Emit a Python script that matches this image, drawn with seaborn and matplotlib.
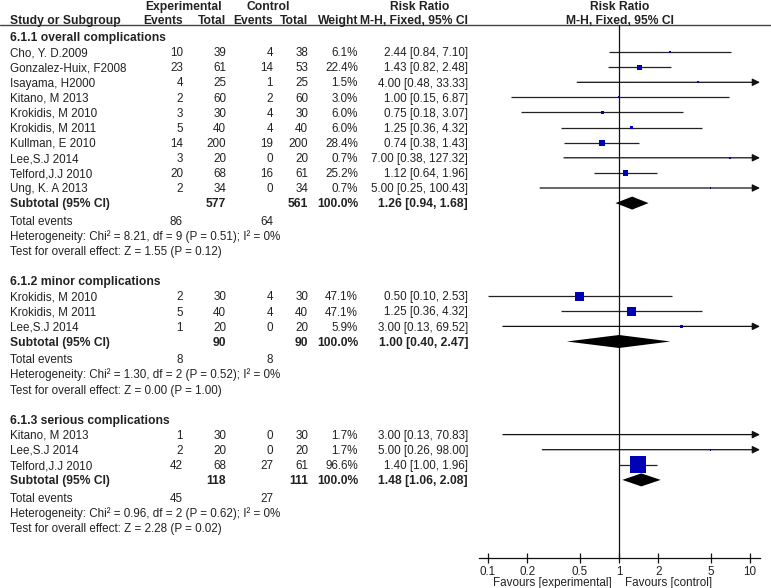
import numpy as np
import matplotlib
matplotlib.use("Agg")
import matplotlib.pyplot as plt
from matplotlib.ticker import NullLocator
import seaborn as sns

# ---------------- data ----------------
group_titles = ["6.1.1 overall complications", "6.1.2 minor complications",
                "6.1.3 serious complications"]
group_sizes = [10, 3, 3]

studies = ["Cho, Y. D.2009", "Gonzalez-Huix, F2008", "Isayama, H2000", "Kitano, M 2013",
           "Krokidis, M 2010", "Krokidis, M 2011", "Kullman, E 2010", "Lee,S.J 2014",
           "Telford,J.J 2010", "Ung, K. A 2013",
           "Krokidis, M 2010", "Krokidis, M 2011", "Lee,S.J 2014",
           "Kitano, M 2013", "Lee,S.J 2014", "Telford,J.J 2010"]
exp_events = [10, 23, 4, 2, 3, 5, 14, 3, 20, 2, 2, 5, 1, 1, 2, 42]
exp_total = [39, 61, 25, 60, 30, 40, 200, 20, 68, 34, 30, 40, 20, 30, 20, 68]
ctrl_events = [4, 14, 1, 2, 4, 4, 19, 0, 16, 0, 4, 4, 0, 0, 0, 27]
ctrl_total = [38, 53, 25, 60, 30, 40, 200, 20, 61, 34, 30, 40, 20, 30, 20, 61]
weight = [6.1, 22.4, 1.5, 3.0, 6.0, 6.0, 28.4, 0.7, 25.2, 0.7, 47.1, 47.1, 5.9, 1.7, 1.7, 96.6]
rr = [2.44, 1.43, 4.00, 1.00, 0.75, 1.25, 0.74, 7.00, 1.12, 5.00, 0.50, 1.25, 3.00, 3.00, 5.00, 1.40]
rr_lo = [0.84, 0.82, 0.48, 0.15, 0.18, 0.36, 0.38, 0.38, 0.64, 0.25, 0.10, 0.36, 0.13, 0.13, 0.26, 1.00]
rr_hi = [7.10, 2.48, 33.33, 6.87, 3.07, 4.32, 1.43, 127.32, 1.96, 100.43, 2.53, 4.32, 69.52, 70.83, 98.00, 1.96]

sub_exp_total = [577, 90, 118]
sub_ctrl_total = [561, 90, 111]
sub_rr = [1.26, 1.00, 1.48]
sub_lo = [0.94, 0.40, 1.06]
sub_hi = [1.68, 2.47, 2.08]
tot_exp_events = [86, 8, 45]
tot_ctrl_events = [64, 8, 27]
het_chi2 = [8.21, 1.30, 0.96]
het_df = [9, 2, 2]
het_p = [0.51, 0.52, 0.62]
het_i2 = [0, 0, 0]
z_val = [1.55, 0.00, 2.28]
z_p = [0.12, 1.00, 0.02]

axis_ticks = [0.1, 0.2, 0.5, 1, 2, 5, 10]
axis_tick_labels = ["0.1", "0.2", "0.5", "1", "2", "5", "10"]

# ---------------- style ----------------
sns.set_style("white")
plt.rcParams["font.family"] = ["Liberation Sans", "DejaVu Sans"]
FS = 8.4
FSB = 8.7
TXT = "#222222"
BLUE = "#0000b4"

W, H = 771, 588
fig = plt.figure(figsize=(W / 100, H / 100), dpi=100)
ax = fig.add_axes([0, 0, 1, 1])
ax.set_xlim(0, W)
ax.set_ylim(H, 0)
ax.axis("off")

# forest axes: x=1 at px 619, one decade = 131 px
X1, DEC = 619.0, 131.0
FL, FR = 470.0, 770.0
def px2v(p):
    return 10 ** ((p - X1) / DEC)
axf = fig.add_axes([FL / W, 0, (FR - FL) / W, 1])
axf.set_xscale("log")
axf.set_xlim(px2v(FL), px2v(FR))
axf.set_ylim(H, 0)
axf.patch.set_visible(False)
AX_LO, AX_HI = px2v(479), px2v(760)

COL_EE, COL_ET, COL_CE, COL_CT, COL_W, COL_CI = 183, 226, 273, 308, 358, 468
XL = 10
OFF = 4.2  # center -> baseline

def t(x, y, s, ha="left", bold=False):
    ax.text(x, y + OFF, s, ha=ha, va="baseline", fontsize=FSB if bold else FS, color=TXT,
            fontweight="bold" if bold else "normal")

# header
yh1 = 5.5
t(184, yh1, "Experimental", ha="center", bold=True)
t(268, yh1, "Control", ha="center", bold=True)
t(420, yh1, "Risk Ratio", ha="center", bold=True)
t(620, yh1, "Risk Ratio", ha="center", bold=True)
yh = 19.5
t(XL, yh, "Study or Subgroup", bold=True)
t(COL_EE, yh, "Events", ha="right", bold=True)
t(COL_ET, yh, "Total", ha="right", bold=True)
t(COL_CE, yh, "Events", ha="right", bold=True)
t(COL_CT, yh, "Total", ha="right", bold=True)
t(COL_W, yh, "Weight", ha="right", bold=True)
t(COL_CI, yh, "M-H, Fixed, 95% CI", ha="right", bold=True)
t(620, yh, "M-H, Fixed, 95% CI", ha="center", bold=True)
ax.plot([0, W], [24.5, 24.5], color="#444444", lw=1.0)

# rows
step = 15.1
y = 37.0
pt_x, pt_y, pt_s = [], [], []
idx = 0
for g in range(3):
    t(XL, y, group_titles[g], bold=True)
    y += step
    for k in range(group_sizes[g]):
        i = idx + k
        t(XL, y, studies[i])
        t(COL_EE, y, str(exp_events[i]), ha="right")
        t(COL_ET, y, str(exp_total[i]), ha="right")
        t(COL_CE, y, str(ctrl_events[i]), ha="right")
        t(COL_CT, y, str(ctrl_total[i]), ha="right")
        t(COL_W, y, f"{weight[i]:.1f}%", ha="right")
        t(COL_CI, y, f"{rr[i]:.2f} [{rr_lo[i]:.2f}, {rr_hi[i]:.2f}]", ha="right")
        if rr_hi[i] > AX_HI:
            axf.annotate("", xy=(AX_HI, y), xytext=(rr_lo[i], y),
                         arrowprops=dict(arrowstyle="-|>,head_length=0.45,head_width=0.22",
                                         color="#111111", lw=0.9, shrinkA=0, shrinkB=0))
        else:
            axf.hlines(y, rr_lo[i], rr_hi[i], color="#222222", lw=0.9)
        pt_x.append(rr[i]); pt_y.append(y)
        side = 1.5 + 0.157 * weight[i]
        pt_s.append((side * 0.72) ** 2)
        y += step
    idx += group_sizes[g]
    # subtotal
    t(XL, y, "Subtotal (95% CI)", bold=True)
    t(COL_ET, y, str(sub_exp_total[g]), ha="right", bold=True)
    t(COL_CT, y, str(sub_ctrl_total[g]), ha="right", bold=True)
    t(COL_W, y, "100.0%", ha="right", bold=True)
    t(COL_CI, y, f"{sub_rr[g]:.2f} [{sub_lo[g]:.2f}, {sub_hi[g]:.2f}]", ha="right", bold=True)
    hd = 6.5
    axf.fill([sub_lo[g], sub_rr[g], sub_hi[g], sub_rr[g]], [y, y - hd, y, y + hd],
             color="black", lw=0, zorder=4)
    y += step + 2.5
    t(XL, y, "Total events")
    t(COL_EE, y, str(tot_exp_events[g]), ha="right")
    t(COL_CE, y, str(tot_ctrl_events[g]), ha="right")
    y += step
    t(XL, y, f"Heterogeneity: Chi² = {het_chi2[g]:.2f}, df = {het_df[g]} (P = {het_p[g]:.2f}); I² = {het_i2[g]}%")
    y += step
    t(XL, y, f"Test for overall effect: Z = {z_val[g]:.2f} (P = {z_p[g]:.2f})")
    y += 2 * step

sns.scatterplot(x=pt_x, y=pt_y, s=pt_s, marker="s", color=BLUE, linewidth=0,
                ax=axf, zorder=5, legend=False)

# vertical line at 1
AXIS_Y = 558
axf.vlines(1, 24.5, AXIS_Y, color="#111111", lw=0.9)

# bottom axis
for sp in ["left", "right", "top"]:
    axf.spines[sp].set_visible(False)
axf.spines["bottom"].set_position(("data", AXIS_Y))
axf.spines["bottom"].set_bounds(AX_LO, AX_HI)
axf.spines["bottom"].set_color("#111111")
axf.spines["bottom"].set_linewidth(0.9)
axf.set_xticks(axis_ticks)
axf.set_xticklabels(axis_tick_labels)
axf.xaxis.set_minor_locator(NullLocator())
axf.tick_params(axis="x", direction="inout", length=7, width=0.9, color="#111111",
                labelsize=FS, labelcolor=TXT, pad=2.0, bottom=True)
axf.set_yticks([])
axf.set_xlabel("")
axf.set_ylabel("")

ax.text(612, 582 + OFF, "Favours [experimental]", ha="right", va="baseline", fontsize=FS, color=TXT)
ax.text(625, 582 + OFF, "Favours [control]", ha="left", va="baseline", fontsize=FS, color=TXT)

fig.savefig("out.png", dpi=100)
